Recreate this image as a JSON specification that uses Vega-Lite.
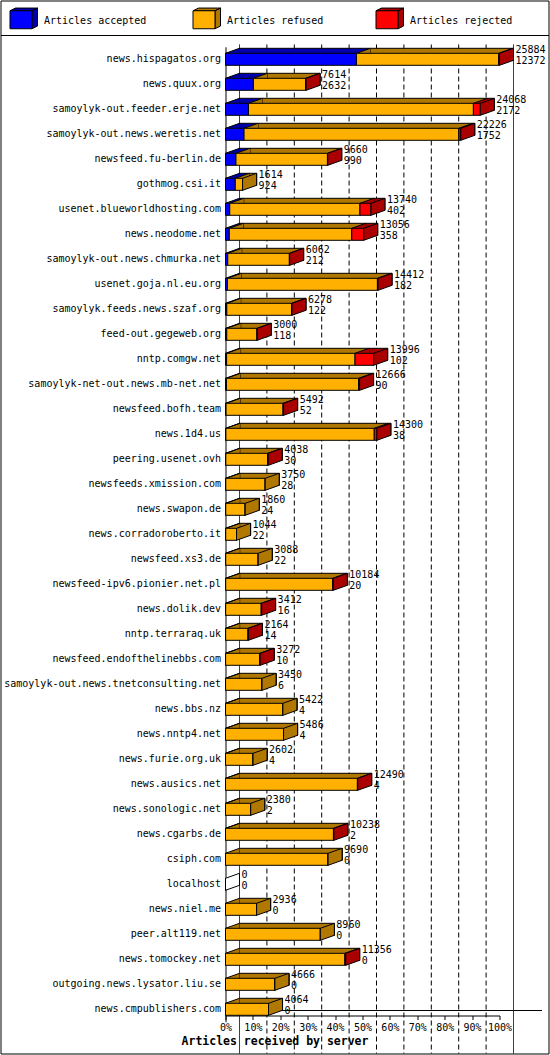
{
  "$schema": "https://vega.github.io/schema/vega-lite/v6.json",
  "description": "Articles received by server, 3D stacked bars",
  "width": 548,
  "height": 1053,
  "autosize": {"type": "none"},
  "padding": {"left": 0.5, "top": 0.5, "right": 1.5, "bottom": 1.5},
  "background": "white",
  "config": {
    "view": {"stroke": "black", "strokeWidth": 1},
    "font": "DejaVu Sans Mono",
    "text": {"font": "DejaVu Sans Mono", "fontSize": 10, "color": "black"}
  },
  "data": {
    "values": [
      {"server": "news.hispagatos.org", "offered": 25884, "accepted": 12372, "refused": 13432, "rejected": 80},
      {"server": "news.quux.org", "offered": 7614, "accepted": 2632, "refused": 4932, "rejected": 50},
      {"server": "samoylyk-out.feeder.erje.net", "offered": 24068, "accepted": 2172, "refused": 21246, "rejected": 650},
      {"server": "samoylyk-out.news.weretis.net", "offered": 22226, "accepted": 1752, "refused": 20284, "rejected": 190},
      {"server": "newsfeed.fu-berlin.de", "offered": 9660, "accepted": 990, "refused": 8640, "rejected": 30},
      {"server": "gothmog.csi.it", "offered": 1614, "accepted": 924, "refused": 690, "rejected": 0},
      {"server": "usenet.blueworldhosting.com", "offered": 13740, "accepted": 402, "refused": 12298, "rejected": 1040},
      {"server": "news.neodome.net", "offered": 13056, "accepted": 358, "refused": 11568, "rejected": 1130},
      {"server": "samoylyk-out.news.chmurka.net", "offered": 6062, "accepted": 212, "refused": 5820, "rejected": 30},
      {"server": "usenet.goja.nl.eu.org", "offered": 14412, "accepted": 182, "refused": 14170, "rejected": 60},
      {"server": "samoylyk.feeds.news.szaf.org", "offered": 6278, "accepted": 122, "refused": 6126, "rejected": 30},
      {"server": "feed-out.gegeweb.org", "offered": 3000, "accepted": 118, "refused": 2852, "rejected": 30},
      {"server": "nntp.comgw.net", "offered": 13996, "accepted": 102, "refused": 12134, "rejected": 1760},
      {"server": "samoylyk-net-out.news.mb-net.net", "offered": 12666, "accepted": 90, "refused": 12476, "rejected": 100},
      {"server": "newsfeed.bofh.team", "offered": 5492, "accepted": 52, "refused": 5380, "rejected": 60},
      {"server": "news.1d4.us", "offered": 14300, "accepted": 38, "refused": 14012, "rejected": 250},
      {"server": "peering.usenet.ovh", "offered": 4038, "accepted": 30, "refused": 3958, "rejected": 50},
      {"server": "newsfeeds.xmission.com", "offered": 3750, "accepted": 28, "refused": 3722, "rejected": 0},
      {"server": "news.swapon.de", "offered": 1860, "accepted": 24, "refused": 1836, "rejected": 0},
      {"server": "news.corradoroberto.it", "offered": 1044, "accepted": 22, "refused": 1022, "rejected": 0},
      {"server": "newsfeed.xs3.de", "offered": 3088, "accepted": 22, "refused": 3066, "rejected": 0},
      {"server": "newsfeed-ipv6.pionier.net.pl", "offered": 10184, "accepted": 20, "refused": 10104, "rejected": 60},
      {"server": "news.dolik.dev", "offered": 3412, "accepted": 16, "refused": 3356, "rejected": 40},
      {"server": "nntp.terraraq.uk", "offered": 2164, "accepted": 14, "refused": 2110, "rejected": 40},
      {"server": "newsfeed.endofthelinebbs.com", "offered": 3272, "accepted": 10, "refused": 3232, "rejected": 30},
      {"server": "samoylyk-out.news.tnetconsulting.net", "offered": 3450, "accepted": 6, "refused": 3444, "rejected": 0},
      {"server": "news.bbs.nz", "offered": 5422, "accepted": 4, "refused": 5418, "rejected": 0},
      {"server": "news.nntp4.net", "offered": 5486, "accepted": 4, "refused": 5482, "rejected": 0},
      {"server": "news.furie.org.uk", "offered": 2602, "accepted": 4, "refused": 2598, "rejected": 0},
      {"server": "news.ausics.net", "offered": 12490, "accepted": 4, "refused": 12456, "rejected": 30},
      {"server": "news.sonologic.net", "offered": 2380, "accepted": 2, "refused": 2378, "rejected": 0},
      {"server": "news.cgarbs.de", "offered": 10238, "accepted": 2, "refused": 10196, "rejected": 40},
      {"server": "csiph.com", "offered": 9690, "accepted": 0, "refused": 9690, "rejected": 0},
      {"server": "localhost", "offered": 0, "accepted": 0, "refused": 0, "rejected": 0},
      {"server": "news.niel.me", "offered": 2936, "accepted": 0, "refused": 2936, "rejected": 0},
      {"server": "peer.alt119.net", "offered": 8960, "accepted": 0, "refused": 8960, "rejected": 0},
      {"server": "news.tomockey.net", "offered": 11356, "accepted": 0, "refused": 11276, "rejected": 80},
      {"server": "outgoing.news.lysator.liu.se", "offered": 4666, "accepted": 0, "refused": 4666, "rejected": 0},
      {"server": "news.cmpublishers.com", "offered": 4064, "accepted": 0, "refused": 4064, "rejected": 0}
    ]
  },
  "resolve": {"scale": {"x": "independent"}},
  "layer": [
    {
      "data": {"values": [{"pct": 0}, {"pct": 100}]},
      "mark": {"type": "point", "opacity": 0},
      "encoding": {
        "x": {
          "field": "pct",
          "type": "quantitative",
          "scale": {"domain": [0, 100], "range": [0, 548]},
          "axis": {"orient": "top", "offset": -34.5, "labels": false, "ticks": false, "grid": false, "domainColor": "black", "title": null}
        }
      }
    },
    {
      "data": {"values": [{"pct": 0}, {"pct": 100}]},
      "mark": {"type": "point", "opacity": 0},
      "encoding": {
        "x": {
          "field": "pct",
          "type": "quantitative",
          "scale": {"domain": [0, 100], "range": [239, 541]},
          "axis": {"orient": "bottom", "offset": -43.5, "labels": false, "ticks": false, "grid": false, "domainColor": "black", "title": null}
        }
      }
    },
    {
      "data": {"values": [{"pct": 0}, {"pct": 10}, {"pct": 20}, {"pct": 30}, {"pct": 40}, {"pct": 50}, {"pct": 60}, {"pct": 70}, {"pct": 80}, {"pct": 90}, {"pct": 100}]},
      "mark": {"type": "rule", "color": "black", "strokeWidth": 1, "xOffset": 14, "yOffset": 44, "y2Offset": -43},
      "encoding": {
        "x": {
          "field": "pct",
          "type": "quantitative",
          "scale": {"domain": [0, 100], "range": [225, 499]},
          "axis": {
            "values": [0, 10, 20, 30, 40, 50, 60, 70, 80, 90, 100],
            "labelExpr": "datum.value + '%'",
            "grid": false,
            "offset": -38,
            "domainColor": "black",
            "tickColor": "black",
            "tickSize": 4,
            "labelPadding": 3,
            "labelFont": "DejaVu Sans Mono",
            "labelFontSize": 10,
            "labelColor": "black",
            "labelFlush": false,
            "title": "Articles received by server",
            "titleFont": "DejaVu Sans Mono",
            "titleFontSize": 11.5,
            "titleFontWeight": "bold",
            "titleColor": "black",
            "titleX": 274,
            "titleY": 26,
            "titleAlign": "center",
            "titleBaseline": "middle"
          }
        },
        "strokeDash": {
          "condition": {"test": "datum.pct == 0 || datum.pct == 100", "value": [1, 0]},
          "value": [5, 3]
        }
      }
    },
    {
      "encoding": {
        "y": {
          "field": "server",
          "type": "nominal",
          "title": null,
          "scale": {
            "domain": ["news.hispagatos.org", "news.quux.org", "samoylyk-out.feeder.erje.net", "samoylyk-out.news.weretis.net", "newsfeed.fu-berlin.de", "gothmog.csi.it", "usenet.blueworldhosting.com", "news.neodome.net", "samoylyk-out.news.chmurka.net", "usenet.goja.nl.eu.org", "samoylyk.feeds.news.szaf.org", "feed-out.gegeweb.org", "nntp.comgw.net", "samoylyk-net-out.news.mb-net.net", "newsfeed.bofh.team", "news.1d4.us", "peering.usenet.ovh", "newsfeeds.xmission.com", "news.swapon.de", "news.corradoroberto.it", "newsfeed.xs3.de", "newsfeed-ipv6.pionier.net.pl", "news.dolik.dev", "nntp.terraraq.uk", "newsfeed.endofthelinebbs.com", "samoylyk-out.news.tnetconsulting.net", "news.bbs.nz", "news.nntp4.net", "news.furie.org.uk", "news.ausics.net", "news.sonologic.net", "news.cgarbs.de", "csiph.com", "localhost", "news.niel.me", "peer.alt119.net", "news.tomockey.net", "outgoing.news.lysator.liu.se", "news.cmpublishers.com"],
            "range": [46.3, 1021.3],
            "paddingInner": 0,
            "paddingOuter": 0
          },
          "axis": {
            "offset": -225,
            "domainColor": "black",
            "ticks": false,
            "labelPadding": 5,
            "labelFont": "DejaVu Sans Mono",
            "labelFontSize": 10,
            "labelColor": "black",
            "labelLimit": 0
          }
        }
      },
      "layer": [
        {
          "transform": [
            {"fold": ["accepted", "refused", "rejected"], "as": ["status", "n"]},
            {"stack": "n", "groupby": ["server"], "sort": [{"field": "status", "order": "ascending"}], "as": ["x0", "x1"]}
          ],
          "mark": {"type": "bar", "size": 12, "xOffset": 14, "x2Offset": 14, "yOffset": -5, "y2Offset": -5, "stroke": "black", "strokeWidth": 1},
          "encoding": {
            "x": {"field": "x0", "type": "quantitative", "scale": {"domain": [0, 25884], "range": [225, 499]}, "axis": null},
            "x2": {"field": "x1"},
            "color": {
              "field": "status",
              "type": "nominal",
              "scale": {"domain": ["accepted", "refused", "rejected"], "range": ["#0000AA", "#B07800", "#AA0000"]},
              "legend": {
                "orient": "none", "legendX": -3.5, "legendY": 0,
                "direction": "horizontal", "columns": 3, "gridAlign": "all",
                "title": " ", "titleFontSize": 1, "titlePadding": 4,
                "symbolType": "M-0.4,-2L0.7,-2.54L5.1,-2.54L4,-2Z M4,-2L5.1,-2.54L5.1,1.06L4,1.6Z",
                "symbolSize": 100, "symbolStrokeColor": "black", "symbolStrokeWidth": 1, "symbolOpacity": 1,
                "labelExpr": "'Articles ' + datum.label",
                "labelFont": "DejaVu Sans Mono", "labelFontSize": 10, "labelOpacity": 0,
                "labelOffset": 26.5, "columnPadding": 43, "padding": 9.5
              }
            }
          }
        },
        {
          "transform": [
            {"fold": ["accepted", "refused", "rejected"], "as": ["status", "n"]},
            {"stack": "n", "groupby": ["server"], "sort": [{"field": "status", "order": "ascending"}], "as": ["x0", "x1"]},
            {"filter": "datum.n > 0"}
          ],
          "mark": {"type": "point", "shape": "M0,-6L14,-11L14,-6Z", "size": 4, "filled": true, "opacity": 1, "strokeWidth": 0},
          "encoding": {
            "x": {"field": "x0", "type": "quantitative", "scale": {"domain": [0, 25884], "range": [225, 499]}, "axis": null},
            "color": {"field": "status", "type": "nominal", "legend": null}
          }
        },
        {
          "transform": [
            {"fold": ["accepted", "refused", "rejected"], "as": ["status", "n"]},
            {"stack": "n", "groupby": ["server"], "sort": [{"field": "status", "order": "ascending"}], "as": ["x0", "x1"]},
            {"filter": "datum.n > 0"}
          ],
          "mark": {"type": "point", "shape": "M0,-6L14,-11", "size": 4, "filled": false, "opacity": 1, "color": "black", "strokeWidth": 1},
          "encoding": {
            "x": {"field": "x0", "type": "quantitative", "scale": {"domain": [0, 25884], "range": [225, 499]}, "axis": null}
          }
        },
        {
          "transform": [
            {"fold": ["accepted", "refused", "rejected"], "as": ["status", "n"]},
            {"stack": "n", "groupby": ["server"], "sort": [{"field": "status", "order": "ascending"}], "as": ["x0", "x1"]}
          ],
          "mark": {"type": "bar", "size": 12, "stroke": "black", "strokeWidth": 1},
          "encoding": {
            "x": {"field": "x0", "type": "quantitative", "scale": {"domain": [0, 25884], "range": [225, 499]}, "axis": null},
            "x2": {"field": "x1"},
            "fill": {
              "field": "status",
              "type": "nominal",
              "scale": {"range": ["#0000FF", "#FFB000", "#FF0000"]},
              "legend": {
                "orient": "none", "legendX": -3.5, "legendY": 0,
                "direction": "horizontal", "columns": 3, "gridAlign": "all",
                "title": " ", "titleFontSize": 1, "titlePadding": 4,
                "symbolType": "M-0.4,-2L4,-2L4,1.6L-0.4,1.6Z",
                "symbolSize": 100, "symbolStrokeColor": "black", "symbolStrokeWidth": 1, "symbolOpacity": 1,
                "labelExpr": "'Articles ' + datum.label",
                "labelFont": "DejaVu Sans Mono", "labelFontSize": 10, "labelColor": "black",
                "labelOffset": 26.5, "columnPadding": 43, "padding": 9.5
              }
            }
          }
        },
        {
          "mark": {"type": "point", "shape": "M0,-6L14,-11L14,1L0,6Z", "size": 4, "filled": true, "opacity": 1, "stroke": "black", "strokeWidth": 1},
          "encoding": {
            "x": {"field": "offered", "type": "quantitative", "scale": {"domain": [0, 25884], "range": [225, 499]}, "axis": null},
            "color": {
              "condition": [
                {"test": "datum.offered == 0", "value": "white"},
                {"test": "datum.rejected > 0", "value": "#AA0000"},
                {"test": "datum.refused > 0", "value": "#B07800"}
              ],
              "value": "#0000AA"
            }
          }
        },
        {
          "mark": {"type": "text", "align": "left", "baseline": "middle", "dx": 16, "dy": -9.5},
          "encoding": {
            "x": {"field": "offered", "type": "quantitative", "scale": {"domain": [0, 25884], "range": [225, 499]}, "axis": null},
            "text": {"field": "offered", "type": "quantitative", "format": "d"}
          }
        },
        {
          "mark": {"type": "text", "align": "left", "baseline": "middle", "dx": 16, "dy": 1.5},
          "encoding": {
            "x": {"field": "offered", "type": "quantitative", "scale": {"domain": [0, 25884], "range": [225, 499]}, "axis": null},
            "text": {"field": "accepted", "type": "quantitative", "format": "d"}
          }
        }
      ]
    }
  ]
}
